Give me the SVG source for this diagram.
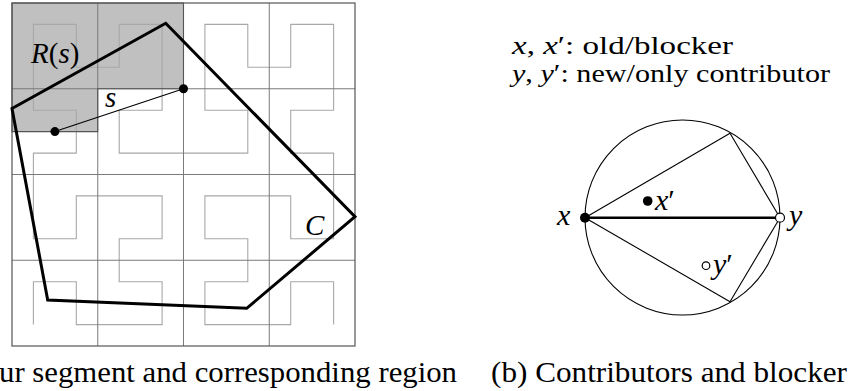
<svg xmlns="http://www.w3.org/2000/svg" width="850" height="391" viewBox="0 0 850 391">
<style>
.grid{fill:none;stroke:#7a7a7a;stroke-width:1}
.border{fill:none;stroke:#555;stroke-width:1.2}
.hil{fill:none;stroke:#a8a8a8;stroke-width:1.1}
.region{fill:#c0c0c0;stroke:none}
.outline{fill:none;stroke:#555;stroke-width:1.1}
.hull{fill:none;stroke:#000;stroke-width:3}
.thin{fill:none;stroke:#000;stroke-width:1.1}
.thick{fill:none;stroke:#000;stroke-width:2.6}
.dot{fill:#000}
.hollow{fill:#fff;stroke:#000;stroke-width:1.2}
</style>
<rect width="850" height="391" fill="#fff"/>
<g id="panel-a">
  <path id="region-Rs" class="region" d="M12,3 H183.5 V88.75 H97.75 V131.6 H12 Z"/>
  <polyline id="hilbert" class="hil" points="33.4,324.6 33.4,281.7 76.3,281.7 76.3,324.6 162.1,324.6 162.1,281.7 119.2,281.7 119.2,238.8 162.1,238.8 162.1,195.9 76.3,195.9 76.3,238.8 33.4,238.8 33.4,153.1 76.3,153.1 76.3,110.2 33.4,110.2 33.4,24.4 76.3,24.4 76.3,67.3 119.2,67.3 119.2,24.4 162.1,24.4 162.1,110.2 119.2,110.2 119.2,153.1 247.8,153.1 247.8,110.2 204.9,110.2 204.9,24.4 247.8,24.4 247.8,67.3 290.7,67.3 290.7,24.4 333.6,24.4 333.6,110.2 290.7,110.2 290.7,153.1 333.6,153.1 333.6,238.8 290.7,238.8 290.7,195.9 204.9,195.9 204.9,238.8 247.8,238.8 247.8,281.7 204.9,281.7 204.9,324.6 290.7,324.6 290.7,281.7 333.6,281.7 333.6,324.6"/>
  <g id="grid">
    <path class="grid" d="M97.75,3 V346 M183.5,3 V346 M269.25,3 V346 M12,88.75 H355 M12,174.5 H355 M12,260.25 H355"/>
    <rect class="border" x="12" y="3" width="343" height="343"/>
  </g>
  <path id="region-outline" class="outline" d="M12,3 H183.5 V88.75 H97.75 V131.6 H12 Z"/>
  <polygon id="hull-C" class="hull" points="165.7,23.3 355,216.7 246.7,308.3 47.7,300 12,108.5"/>
  <g id="segment-s">
    <line class="thin" x1="54.9" y1="131.6" x2="183.5" y2="88.75"/>
    <circle class="dot" cx="54.9" cy="131.6" r="4.5"/>
    <circle class="dot" cx="183.5" cy="88.75" r="4.5"/>
  </g>
  <text x="31" y="63" font-size="29" font-family="Times New Roman, Liberation Serif, serif"><tspan font-style="italic">R</tspan>(<tspan font-style="italic">s</tspan>)</text>
  <text x="105" y="107" font-size="29" font-family="Times New Roman, Liberation Serif, serif" font-style="italic">s</text>
  <text x="305" y="235" font-size="29" font-family="Times New Roman, Liberation Serif, serif" font-style="italic">C</text>
</g>
<g id="panel-b">
  <text x="512" y="54" font-size="26" font-family="Times New Roman, Liberation Serif, serif" textLength="221" lengthAdjust="spacingAndGlyphs"><tspan font-style="italic">x</tspan>, <tspan font-style="italic">x</tspan>&#8242;: old/blocker</text>
  <text x="512" y="82" font-size="26" font-family="Times New Roman, Liberation Serif, serif" textLength="318" lengthAdjust="spacingAndGlyphs"><tspan font-style="italic">y</tspan>, <tspan font-style="italic">y</tspan>&#8242;: new/only contributor</text>
  <circle id="circle" class="thin" cx="682.5" cy="217.5" r="97.5"/>
  <g id="connectors">
    <line class="thin" x1="585" y1="217.7" x2="730" y2="133.3"/>
    <line class="thin" x1="730" y1="133.3" x2="780" y2="217.7"/>
    <line class="thin" x1="585" y1="217.7" x2="730" y2="301.7"/>
    <line class="thin" x1="730" y1="301.7" x2="780" y2="217.7"/>
    <line class="thick" x1="585" y1="217.7" x2="780" y2="217.7"/>
  </g>
  <g id="node-x">
    <circle class="dot" cx="585" cy="217.7" r="5"/>
    <text x="557" y="225" font-size="30" font-family="Times New Roman, Liberation Serif, serif" font-style="italic">x</text>
  </g>
  <g id="node-y">
    <circle class="hollow" cx="780" cy="217.7" r="4.5"/>
    <text x="789" y="225" font-size="30" font-family="Times New Roman, Liberation Serif, serif" font-style="italic">y</text>
  </g>
  <g id="node-xp">
    <circle class="dot" cx="647.7" cy="201" r="4.8"/>
    <text x="655" y="210" font-size="30" font-family="Times New Roman, Liberation Serif, serif"><tspan font-style="italic">x</tspan>&#8242;</text>
  </g>
  <g id="node-yp">
    <circle class="hollow" cx="706" cy="265.7" r="3.8"/>
    <text x="713" y="274" font-size="30" font-family="Times New Roman, Liberation Serif, serif"><tspan font-style="italic">y</tspan>&#8242;</text>
  </g>
</g>
<g id="captions">
  <text x="-1" y="382" font-size="29" font-family="Times New Roman, Liberation Serif, serif" textLength="458" lengthAdjust="spacingAndGlyphs">ur segment and corresponding region</text>
  <text x="491" y="382" font-size="29" font-family="Times New Roman, Liberation Serif, serif" textLength="356" lengthAdjust="spacingAndGlyphs">(b) Contributors and blocker</text>
</g>
</svg>
